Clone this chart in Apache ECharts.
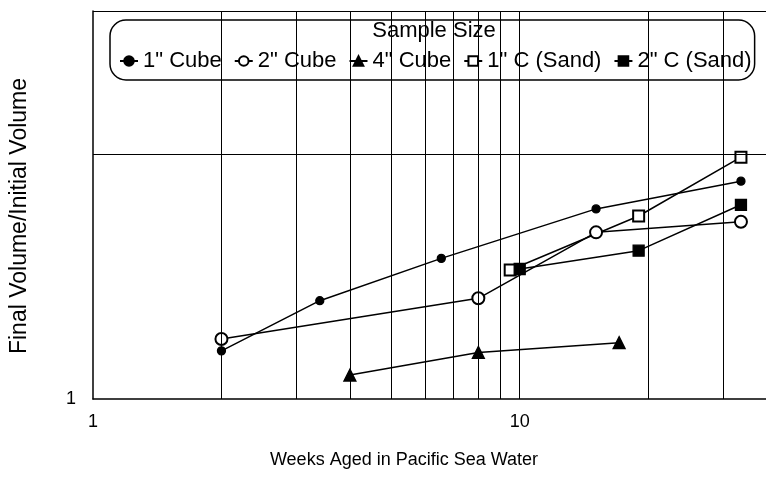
<!DOCTYPE html>
<html>
<head>
<meta charset="utf-8">
<script src="https://cdn.jsdelivr.net/npm/echarts@6/dist/echarts.min.js"></script>
<style>
html,body{margin:0;padding:0;background:#fff;}
#chart{width:766px;height:477px;}
</style>
</head>
<body>
<div id="chart"></div>
<script>
// ---- data ----
const seriesNames = ['1" Cube', '2" Cube', '4" Cube', '1" C (Sand)', '2" C (Sand)'];
const cube1X = [2, 3.4, 6.55, 15.1, 33];
const cube1Y = [1.146, 1.321, 1.489, 1.713, 1.853];
const cube2X = [2, 8, 15.1, 33];
const cube2Y = [1.185, 1.330, 1.603, 1.652];
const cube4X = [4, 8, 17.1];
const cube4Y = [1.070, 1.141, 1.173];
const sand1X = [9.5, 19, 33];
const sand1Y = [1.441, 1.679, 1.983];
const sand2X = [10, 19, 33];
const sand2Y = [1.445, 1.522, 1.733];
const xTickLabels = [1, 10];
const yTickLabels = [1];
const xGridValues = [2, 3, 4, 5, 6, 7, 8, 9, 10, 20, 30];
const yGridValues = [2, 3];
const legendTitle = 'Sample Size';
const xTitle = 'Weeks Aged in Pacific Sea Water';
const yTitle = 'Final Volume/Initial Volume';

const FONT = 'Liberation Sans';
const pair = (xs, ys) => xs.map((x, i) => [x, ys[i]]);
const seriesX = [cube1X, cube2X, cube4X, sand1X, sand2X];
const seriesY = [cube1Y, cube2Y, cube4Y, sand1Y, sand2Y];
const symbols = ['circle', 'emptyCircle', 'triangle', 'emptyRect', 'rect'];
const symbolSizes = [8, 12, 12, 11, 11];

const chart = echarts.init(document.getElementById('chart'), null, {renderer: 'canvas'});

const dataSeries = seriesNames.map((name, i) => ({
  name: name,
  type: 'line',
  data: pair(seriesX[i], seriesY[i]),
  symbol: symbols[i],
  symbolSize: symbolSizes[i],
  z: 3,
  lineStyle: {color: '#000', width: 1.5},
  itemStyle: {color: '#000', borderColor: '#000', borderWidth: 1.3},
  emphasis: {disabled: true}
}));

const gridSeries = {
  name: 'gridlines',
  type: 'line',
  data: [],
  z: 1,
  silent: true,
  markLine: {
    silent: true,
    symbol: 'none',
    animation: false,
    label: {show: false},
    lineStyle: {color: '#000', width: 1, type: 'solid'},
    emphasis: {disabled: true},
    data: xGridValues.map(v => ({xAxis: v})).concat(yGridValues.map(v => ({yAxis: v})))
  }
};

const near = (v, list) => list.some(t => Math.abs(v - t) < 1e-6 * t);

chart.setOption({
  animation: false,
  backgroundColor: '#fff',
  color: ['#000'],
  textStyle: {fontFamily: FONT, color: '#000'},
  grid: {left: 93, top: 11, width: 683.6, height: 388, outerBoundsMode: 'none', containLabel: false},
  xAxis: {
    type: 'log',
    logBase: 10,
    min: 1,
    max: 40,
    splitLine: {show: false},
    axisTick: {show: false},
    axisLine: {show: true, lineStyle: {color: '#000', width: 1.5}},
    axisLabel: {
      show: true, margin: 14, color: '#000', fontSize: 18, fontFamily: FONT,
      showMaxLabel: false,
      formatter: v => near(v, xTickLabels) ? String(Math.round(v)) : ''
    }
  },
  yAxis: {
    type: 'log',
    logBase: 10,
    min: 1,
    max: 3,
    splitLine: {show: false},
    axisTick: {show: false},
    axisLine: {show: true, lineStyle: {color: '#000', width: 1.5}},
    axisLabel: {
      show: true, margin: 17, color: '#000', fontSize: 18, fontFamily: FONT,
      showMaxLabel: false,
      formatter: v => near(v, yTickLabels) ? String(Math.round(v)) : ''
    }
  },
  legend: {
    data: seriesNames,
    left: 110,
    top: 20,
    orient: 'horizontal',
    padding: [30, 3, 8, 9],
    itemGap: 12,
    itemWidth: 18,
    itemHeight: 12,
    backgroundColor: '#fff',
    borderColor: '#000',
    borderWidth: 1.5,
    borderRadius: 16,
    selectedMode: false,
    textStyle: {fontFamily: FONT, fontSize: 22, color: '#000', lineHeight: 22}
  },
  graphic: [
    {type: 'text', z: 100, x: 434, y: 31,
     style: {text: legendTitle, font: '22px ' + FONT, fill: '#000', textAlign: 'center', textVerticalAlign: 'middle'}},
    {type: 'text', z: 100, x: 404, y: 460,
     style: {text: xTitle, font: '18px ' + FONT, fill: '#000', textAlign: 'center', textVerticalAlign: 'middle'}},
    {type: 'text', z: 100, x: 20, y: 216, rotation: Math.PI / 2,
     style: {text: yTitle, font: '23px ' + FONT, fill: '#000', textAlign: 'center', textVerticalAlign: 'middle'}}
  ],
  series: [gridSeries].concat(dataSeries)
});
</script>
</body>
</html>
